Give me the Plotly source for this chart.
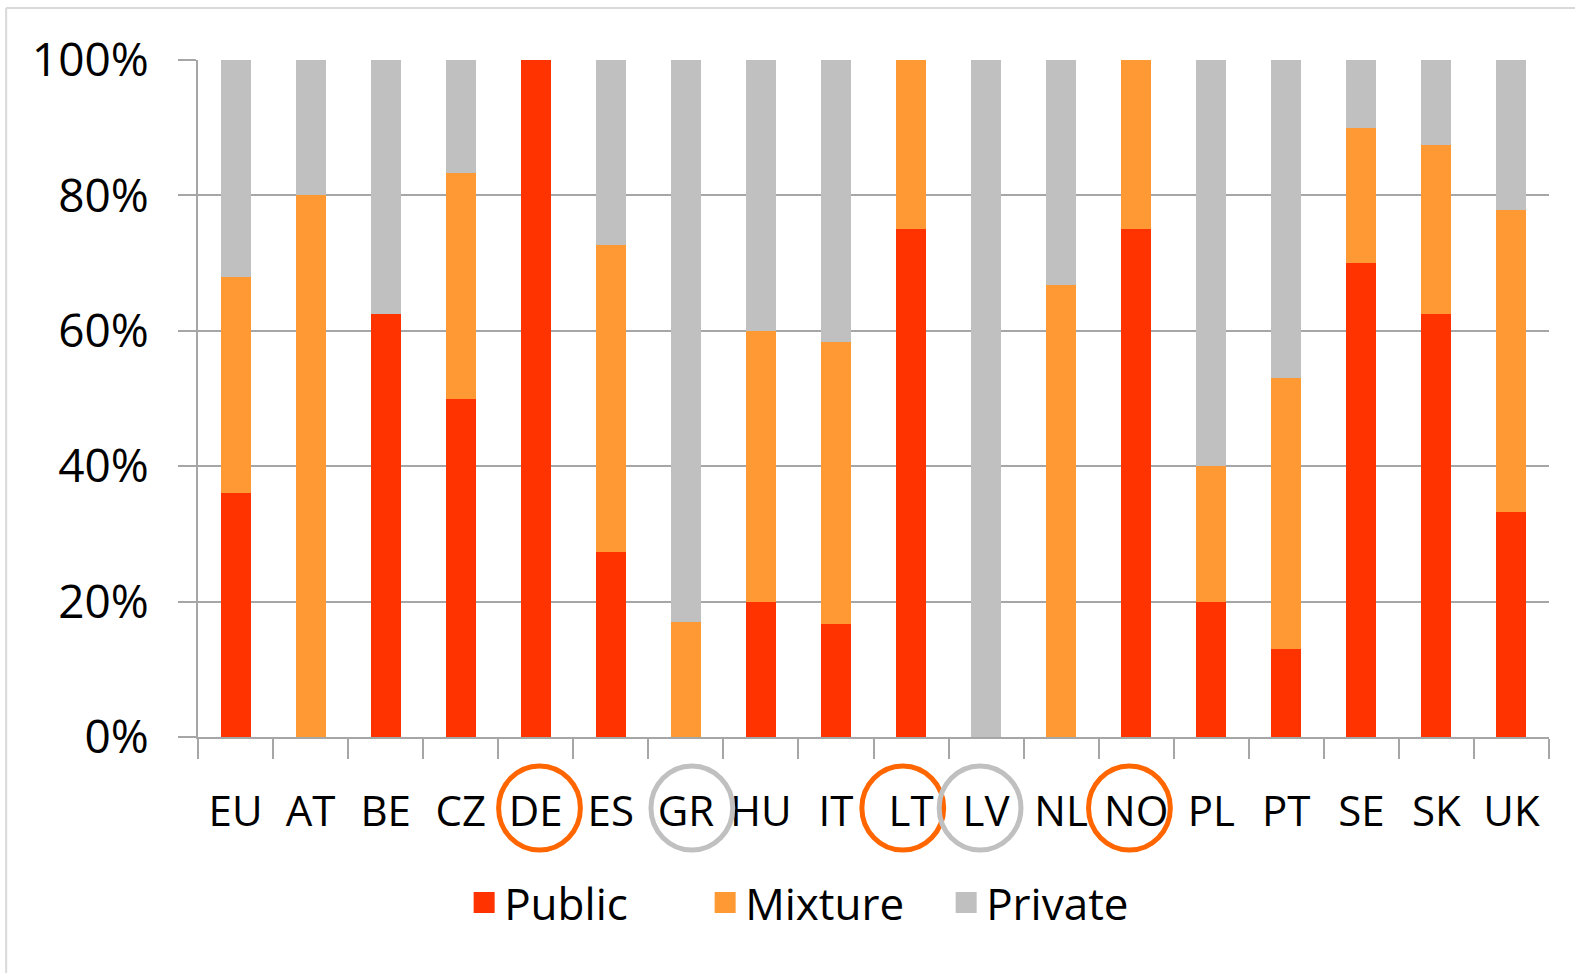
import plotly.graph_objects as go

countries = ["EU", "AT", "BE", "CZ", "DE", "ES", "GR", "HU", "IT", "LT", "LV", "NL", "NO", "PL", "PT", "SE", "SK", "UK"]
public = [36, 0, 62.5, 50, 100, 27.3, 0, 20, 16.7, 75, 0, 0, 75, 20, 13, 70, 62.5, 33.3]
mixture = [32, 80, 0, 33.3, 0, 45.4, 17, 40, 41.6, 25, 0, 66.7, 25, 20, 40, 20, 25, 44.5]
private = [32, 20, 37.5, 16.7, 0, 27.3, 83, 40, 41.7, 0, 100, 33.3, 0, 60, 47, 10, 12.5, 22.2]
y_ticks = [0, 20, 40, 60, 80, 100]
y_tick_labels = ["0%", "20%", "40%", "60%", "80%", "100%"]

series_names = ["Public", "Mixture", "Private"]
series_colors = ["#FF3300", "#FF9933", "#C0C0C0"]

circled = ["DE", "GR", "LT", "LV", "NO"]
circle_colors = ["#FF6600", "#C0C0C0", "#FF6600", "#C0C0C0", "#FF6600"]
circle_offsets = [0.05, 0.08, -0.11, -0.08, -0.09]

FONT = "Open Sans"

fig = go.Figure()
for name, vals, col in zip(series_names, [public, mixture, private], series_colors):
    fig.add_trace(go.Bar(x=countries, y=vals, name=name, marker=dict(color=col, line=dict(width=0)),
                         showlegend=False))
    fig.add_trace(go.Scatter(x=[None], y=[None], mode="markers", name=name,
                             marker=dict(symbol="square", size=16, color=col,
                                         line=dict(color=col, width=12))))

shapes = []
for c, col, off in zip(circled, circle_colors, circle_offsets):
    i = countries.index(c)
    shapes.append(dict(type="circle", xref="x", yref="paper",
                       x0=i + off - 0.545, x1=i + off + 0.545,
                       y0=-0.0428, y1=-0.1669,
                       line=dict(color=col, width=5)))
# outer frame (top and left edges)
shapes.append(dict(type="line", xref="paper", yref="paper", x0=-0.142, x1=1.03, y0=1.0768, y1=1.0768,
                   line=dict(color="#D9D9D9", width=2)))
shapes.append(dict(type="line", xref="paper", yref="paper", x0=-0.142, x1=-0.142, y0=1.0768, y1=-0.36,
                   line=dict(color="#D9D9D9", width=2)))

fig.update_layout(
    barmode="stack",
    bargap=0.6,
    width=1575, height=973,
    margin=dict(l=198, r=26, t=60, b=236),
    paper_bgcolor="white", plot_bgcolor="white",
    font=dict(family=FONT, color="black"),
    legend=dict(orientation="h", x=0.197, xanchor="left", y=-0.245, yanchor="middle",
                font=dict(size=44, family=FONT), itemsizing="trace", traceorder="normal",
                entrywidth=196, entrywidthmode="pixels"),
    shapes=shapes,
)
fig.update_xaxes(
    type="category", tickfont=dict(size=42, family=FONT),
    showline=True, linecolor="#A6A6A6", linewidth=2,
    ticks="outside", tickson="boundaries", ticklen=20, tickcolor="#A6A6A6", tickwidth=2,
    ticklabelstandoff=37, showgrid=False,
)
fig.update_yaxes(
    range=[0, 100], tickvals=y_ticks, ticktext=y_tick_labels,
    tickfont=dict(size=46, family=FONT),
    showgrid=True, gridcolor="#A6A6A6", gridwidth=2,
    showline=True, linecolor="#A6A6A6", linewidth=2,
    ticks="outside", ticklen=18, tickcolor="#A6A6A6", tickwidth=2,
    ticklabelstandoff=20, zeroline=False,
)

fig.write_html("out.html", config={"displayModeBar": False},
               post_script="document.body.style.margin='0';document.body.style.overflow='hidden';")
